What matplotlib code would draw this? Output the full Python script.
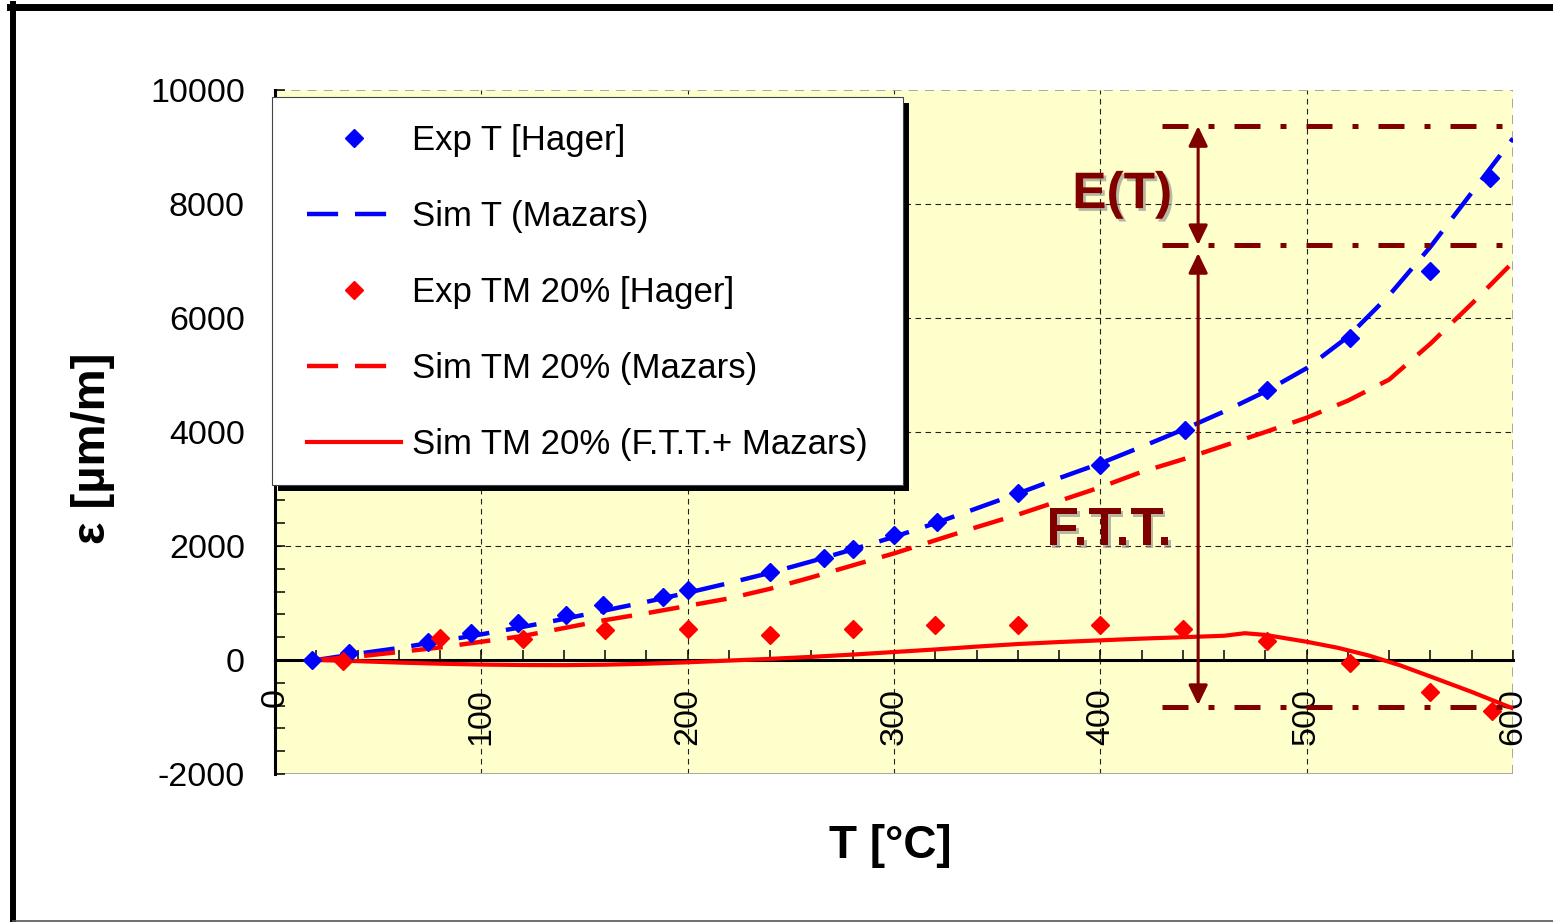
import matplotlib
matplotlib.use("Agg")
import matplotlib.pyplot as plt
import matplotlib.patheffects as pe
from matplotlib.lines import Line2D
from matplotlib.patches import Rectangle

plt.rcParams["font.family"] = ["Liberation Sans", "DejaVu Sans"]

W, H, DPI = 1553, 922, 100

# ---- data ---------------------------------------------------------------
# Experimental thermal strain, free specimen (Hager)
exp_t_temp = [18, 36, 74, 95, 118, 141, 159, 188, 200, 240, 266, 280, 300,
              321, 360, 400, 441, 481, 521, 560, 589]
exp_t_eps = [0, 120, 316, 470, 650, 790, 965, 1105, 1228, 1543, 1790, 1950,
             2190, 2420, 2930, 3420, 4030, 4740, 5650, 6830, 8450]

# Experimental strain under 20 % load (Hager)
exp_tm_temp = [33, 80, 120, 160, 200, 240, 280, 320, 360, 400, 440, 481,
               521, 560, 590]
exp_tm_eps = [-10, 385, 363, 526, 538, 440, 538, 614, 614, 614, 538, 333,
              -47, -567, -895]

# Simulations (Mazars model)
sim_temp = [20, 40, 60, 80, 100, 120, 140, 160, 180, 200, 220, 240, 260,
            280, 300, 320, 340, 360, 380, 400, 420, 440, 460, 480, 500, 520,
            540, 560, 580, 600]
sim_t_eps = [0, 110, 210, 330, 450, 580, 720, 870, 1020, 1180, 1350, 1530,
             1730, 1940, 2160, 2400, 2660, 2920, 3190, 3450, 3740, 4040,
             4360, 4710, 5120, 5670, 6400, 7250, 8200, 9150]
sim_tm_eps = [0, 60, 140, 220, 320, 420, 560, 700, 820, 950, 1080, 1250,
              1450, 1660, 1870, 2100, 2330, 2550, 2790, 3030, 3300, 3520,
              3760, 4000, 4250, 4550, 4920, 5550, 6250, 6980]

# Simulation with transient thermal strain (F.T.T. + Mazars)
ftt_temp = [20, 40, 60, 80, 100, 120, 140, 160, 180, 200, 220, 240, 260,
            280, 300, 320, 340, 360, 380, 400, 420, 440, 460, 470, 480, 500,
            515, 530, 545, 560, 580, 600]
ftt_eps = [0, -20, -45, -65, -80, -88, -90, -82, -65, -40, -10, 20, 55, 95,
           140, 185, 235, 280, 315, 345, 375, 400, 425, 470, 440, 320,
           215, 80, -90, -290, -560, -850]

# Annotation levels (strain) and span (temperature)
level_top = 9366
level_mid = 7279
level_bot = -824
level_span = [430, 598.5]
arrow_temp = 447.4

x_ticks = [0, 100, 200, 300, 400, 500, 600]
x_tick_labels = ["0", "100", "200", "300", "400", "500", "600"]
y_ticks = [-2000, 0, 2000, 4000, 6000, 8000, 10000]
y_tick_labels = ["-2000", "0", "2000", "4000", "6000", "8000", "10000"]

labels = ["Exp T [Hager]", "Sim T (Mazars)", "Exp TM 20% [Hager]",
          "Sim TM 20% (Mazars)", "Sim TM 20% (F.T.T.+ Mazars)"]

# ---- figure -------------------------------------------------------------
def fx(px):
    return px / W


def fy(py):
    return 1 - py / H


fig = plt.figure(figsize=(W / DPI, H / DPI), dpi=DPI)
fig.patch.set_facecolor("white")
ax = fig.add_axes([fx(275), fy(774), (1513 - 275) / W, (774 - 90) / H])
ax.set_facecolor("#FFFFCC")
ax.set_xlim(0, 600)
ax.set_ylim(-2000, 10000)

DARKRED = "#800000"
MS = 9.4
dash_style = (7.0, 3.8)

ax.plot(sim_temp, sim_t_eps, color="blue", lw=3.2, dashes=dash_style, zorder=3)
ax.plot(sim_temp, sim_tm_eps, color="red", lw=3.2, dashes=dash_style, zorder=3)
ax.plot(ftt_temp, ftt_eps, color="red", lw=3.0, zorder=3)
ax.plot(exp_t_temp, exp_t_eps, ls="none", marker="D", ms=MS, color="blue", zorder=4)
ax.plot(exp_tm_temp, exp_tm_eps, ls="none", marker="D", ms=MS, color="red", zorder=4)

# axes, ticks and grid
ax.spines["top"].set_visible(False)
ax.spines["right"].set_visible(False)
ax.spines["bottom"].set_position(("data", 0))
ax.spines["bottom"].set_linewidth(2.2)
ax.spines["left"].set_linewidth(2.2)

ax.set_xticks(x_ticks, labels=x_tick_labels, rotation=90)
ax.set_yticks(y_ticks, labels=y_tick_labels)
ax.set_xticks([t for t in range(0, 601, 20)], minor=True)
ax.set_yticks([v for v in range(-2000, 10001, 400)], minor=True)
ax.tick_params(which="both", direction="in", length=7, width=1.1)
ax.tick_params(axis="x", which="major", pad=20, labelsize=24.5)
ax.tick_params(axis="y", which="major", pad=21.6, labelsize=24.5)

ax.grid(True, which="major", color="#222222", lw=0.8, linestyle=(0, (5, 4)))
for tick in ax.xaxis.get_major_ticks():
    loc = tick.get_loc()
    if loc == 600:
        tick.gridline.set_color("#A0A0A0")
        tick.gridline.set_linewidth(1.3)
for tick in ax.yaxis.get_major_ticks():
    loc = tick.get_loc()
    if loc == 10000:
        tick.gridline.set_color("#A0A0A0")
        tick.gridline.set_linewidth(1.3)
    elif loc == -2000:
        tick.gridline.set_color("#A0A0A0")
        tick.gridline.set_linewidth(1.3)
        tick.gridline.set_linestyle("-")

ax.set_xlabel("T [°C]", fontsize=33, fontweight="bold")
ax.xaxis.set_label_coords((890 - 275) / 1238, (774 - 846) / 684)
ax.xaxis.label.set_verticalalignment("center")
ax.set_ylabel("ε [µm/m]", fontsize=34, fontweight="bold")
ax.yaxis.set_label_coords((93 - 275) / 1238, (774 - 448) / 684)
ax.yaxis.label.set_verticalalignment("center")

# reference levels and dimension arrows
for lev in (level_top, level_mid, level_bot):
    ax.plot(level_span, [lev, lev], color=DARKRED, lw=3.6,
            dashes=(5.2, 4.0, 1.2, 4.0), solid_capstyle="butt", zorder=5)

arrow_kw = dict(arrowstyle="<|-|>,head_length=12,head_width=5.8",
                color=DARKRED, lw=2.2, shrinkA=0, shrinkB=0, mutation_scale=1)
ax.annotate("", xy=(arrow_temp, level_top), xytext=(arrow_temp, level_mid),
            arrowprops=arrow_kw, zorder=6)
ax.annotate("", xy=(arrow_temp, 7139), xytext=(arrow_temp, -790),
            arrowprops=arrow_kw, zorder=6)

shadow = [pe.SimplePatchShadow(offset=(2, -2), shadow_rgbFace="#888888", alpha=0.6),
          pe.Normal()]
ax.text(434.8, 7928, "E(T)", ha="right", va="baseline", fontsize=37,
        fontweight="bold", color=DARKRED, path_effects=shadow, zorder=6)
ax.text(434.8, 2017, "F.T.T.", ha="right", va="baseline", fontsize=39,
        fontweight="bold", color=DARKRED, path_effects=shadow, zorder=6)

# legend with a boxed, shadowed frame
handles = [
    Line2D([], [], ls="none", marker="D", ms=MS, color="blue"),
    Line2D([], [], color="blue", lw=3.2, dashes=dash_style),
    Line2D([], [], ls="none", marker="D", ms=MS, color="red"),
    Line2D([], [], color="red", lw=3.2, dashes=dash_style),
    Line2D([], [], color="red", lw=3.0),
]
fig.add_artist(Rectangle((fx(278), fy(491)), (903 - 272) / W, (485 - 97) / H,
                         transform=fig.transFigure, facecolor="black",
                         edgecolor="none", zorder=3.9))
fig.add_artist(Rectangle((fx(272), fy(485)), (903 - 272) / W, (485 - 97) / H,
                         transform=fig.transFigure, facecolor="white",
                         edgecolor="#444444", lw=0.8, zorder=4))
fig.legend(handles, labels, loc="upper left",
           bbox_to_anchor=(fx(307), fy(124)), frameon=False, borderpad=0,
           borderaxespad=0, handlelength=2.7, handletextpad=0.33,
           labelspacing=1.24, fontsize=25, numpoints=1)

# outer frame of the figure
fig.add_artist(Line2D([fx(13), fx(13)], [fy(4), fy(922)], lw=4.3,
                      color="black", transform=fig.transFigure))
fig.add_artist(Line2D([fx(10), 1], [fy(7.5), fy(7.5)], lw=5,
                      color="black", transform=fig.transFigure))
fig.add_artist(Line2D([fx(13), 1], [fy(920.5), fy(920.5)], lw=1.2,
                      color="#555555", transform=fig.transFigure))

fig.savefig("out.png", dpi=DPI)
